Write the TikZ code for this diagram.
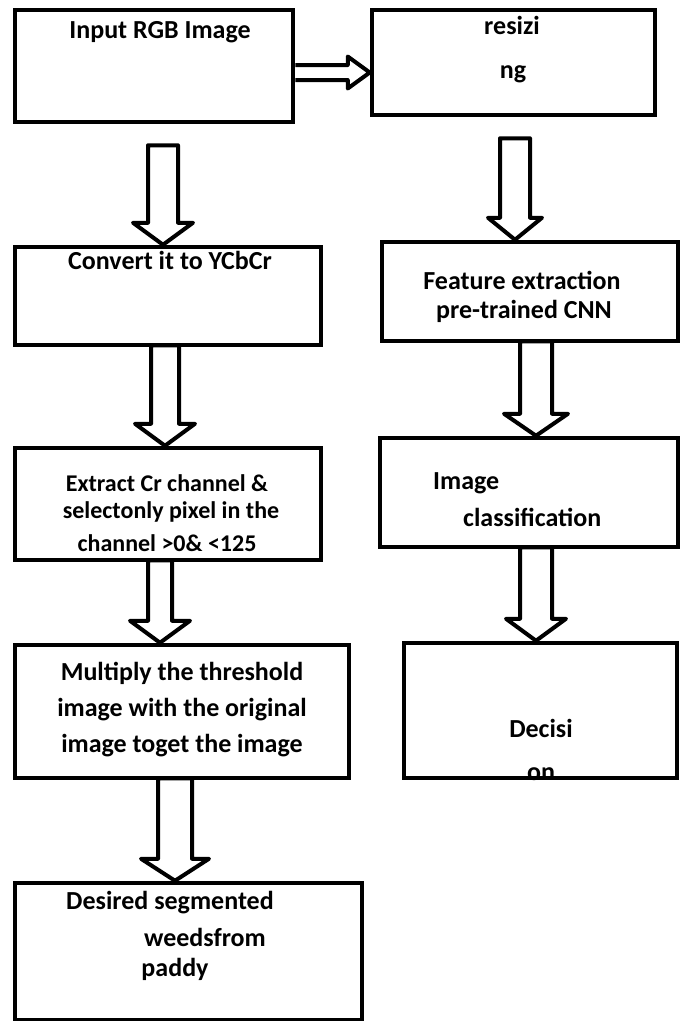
\documentclass[tikz,border=0pt]{standalone}
\usepackage{fontspec}
\setmainfont{Carlito}
\usetikzlibrary{calc}
\newcommand{\Down}[6]{%
  \draw[hollow] ($(#1.south -| #3,0)+(-#4,#6)$) -- ($(#1.south -| #3,0)+(#4,#6)$)
    -- ($(#2.north -| #3,0)+(#4,-22)$) -- ($(#2.north -| #3,0)+(#5,-22)$)
    -- (#2.north -| #3,0) -- ($(#2.north -| #3,0)+(-#5,-22)$)
    -- ($(#2.north -| #3,0)+(-#4,-22)$) -- cycle;}

\begin{document}
\begin{tikzpicture}[x=1pt, y=-1pt,
    box/.style={draw, line width=4.5pt, inner sep=0pt},
    hollow/.style={line width=4pt, line join=round},
    txt/.style={font=\bfseries\fontsize{26}{30}\selectfont, inner sep=0pt, text height=17pt, text depth=5pt},
    small/.style={txt, font=\bfseries\fontsize{24}{28}\selectfont}]

    \useasboundingbox (0,0) rectangle (686,1021);

    \draw(154,66) node[box, minimum width=278pt, minimum height=112pt] (A) {};
    \draw(168,296) node[box, minimum width=306pt, minimum height=98pt] (B) {};
    \draw(168,504) node[box, minimum width=306pt, minimum height=112pt] (C) {};
    \draw(182,711.5) node[box, minimum width=334pt, minimum height=133pt] (D) {};
    \draw(188.5,951.5) node[box, minimum width=347pt, minimum height=137pt] (E) {};
    \draw(513.5,62.5) node[box, minimum width=283pt, minimum height=105pt] (F) {};
    \draw(530,291.5) node[box, minimum width=296pt, minimum height=99pt] (G) {};
    \draw(529,492.5) node[box, minimum width=298pt, minimum height=109pt] (H) {};
    \draw(540.5,710.5) node[box, minimum width=273pt, minimum height=135pt] (K) {};

    \draw[hollow] (A.east |- 0,65) -- ($(F.west |- 0,72.5)+(-22,-7.5)$)
        -- ($(F.west |- 0,72.5)+(-22,-16)$) -- (F.west |- 0,72.5)
        -- ($(F.west |- 0,72.5)+(-22,16)$) -- ($(F.west |- 0,72.5)+(-22,7.5)$)
        -- (A.east |- 0,80);

    \Down{A}{B}{163}{15}{30}{21}
    \Down{B}{C}{165}{14}{30}{-2}
    \Down{C}{D}{160}{12}{30}{-2}
    \Down{D}{E}{175}{17}{34}{-2}
    \Down{F}{G}{515}{15}{27}{21}
    \Down{G}{H}{536}{16}{32}{-2}
    \Down{H}{K}{536}{16}{30}{-2}

    \draw(160,32) node[txt] (A1) {Input RGB Image};
    \draw(512,28) node[txt] (F1) {resizi};
    \draw(513,72) node[txt] (F2) {ng};
    \draw(170,263) node[txt] (B1) {Convert it to YCbCr};
    \draw(522,283) node[txt] (G1) {Feature extraction};
    \draw(524,312) node[txt] (G2) {pre-trained CNN};
    \draw(167,485) node[small] (C1) {Extract Cr channel \&};
    \draw(171,512) node[small] (C2) {selectonly pixel in the};
    \draw(167,545) node[small] (C3) {channel >0\& <125};
    \draw(433,483) node[txt, anchor=west] (H1) {Image};
    \draw(463,520) node[txt, anchor=west] (H2) {classification};
    \draw(182,674) node[txt] (D1) {Multiply the threshold};
    \draw(182,710) node[txt] (D2) {image with the original};
    \draw(182,746) node[txt] (D3) {image toget the image};
    \draw(541,731) node[txt] (K1) {Decisi};
    \draw(541,774) node[txt] (K2) {on};
    \draw(170,903) node[txt] (E1) {Desired segmented};
    \draw(205,940) node[txt] (E2) {weedsfrom};
    \draw(175,970) node[txt] (E3) {paddy};

\end{tikzpicture}
\end{document}
